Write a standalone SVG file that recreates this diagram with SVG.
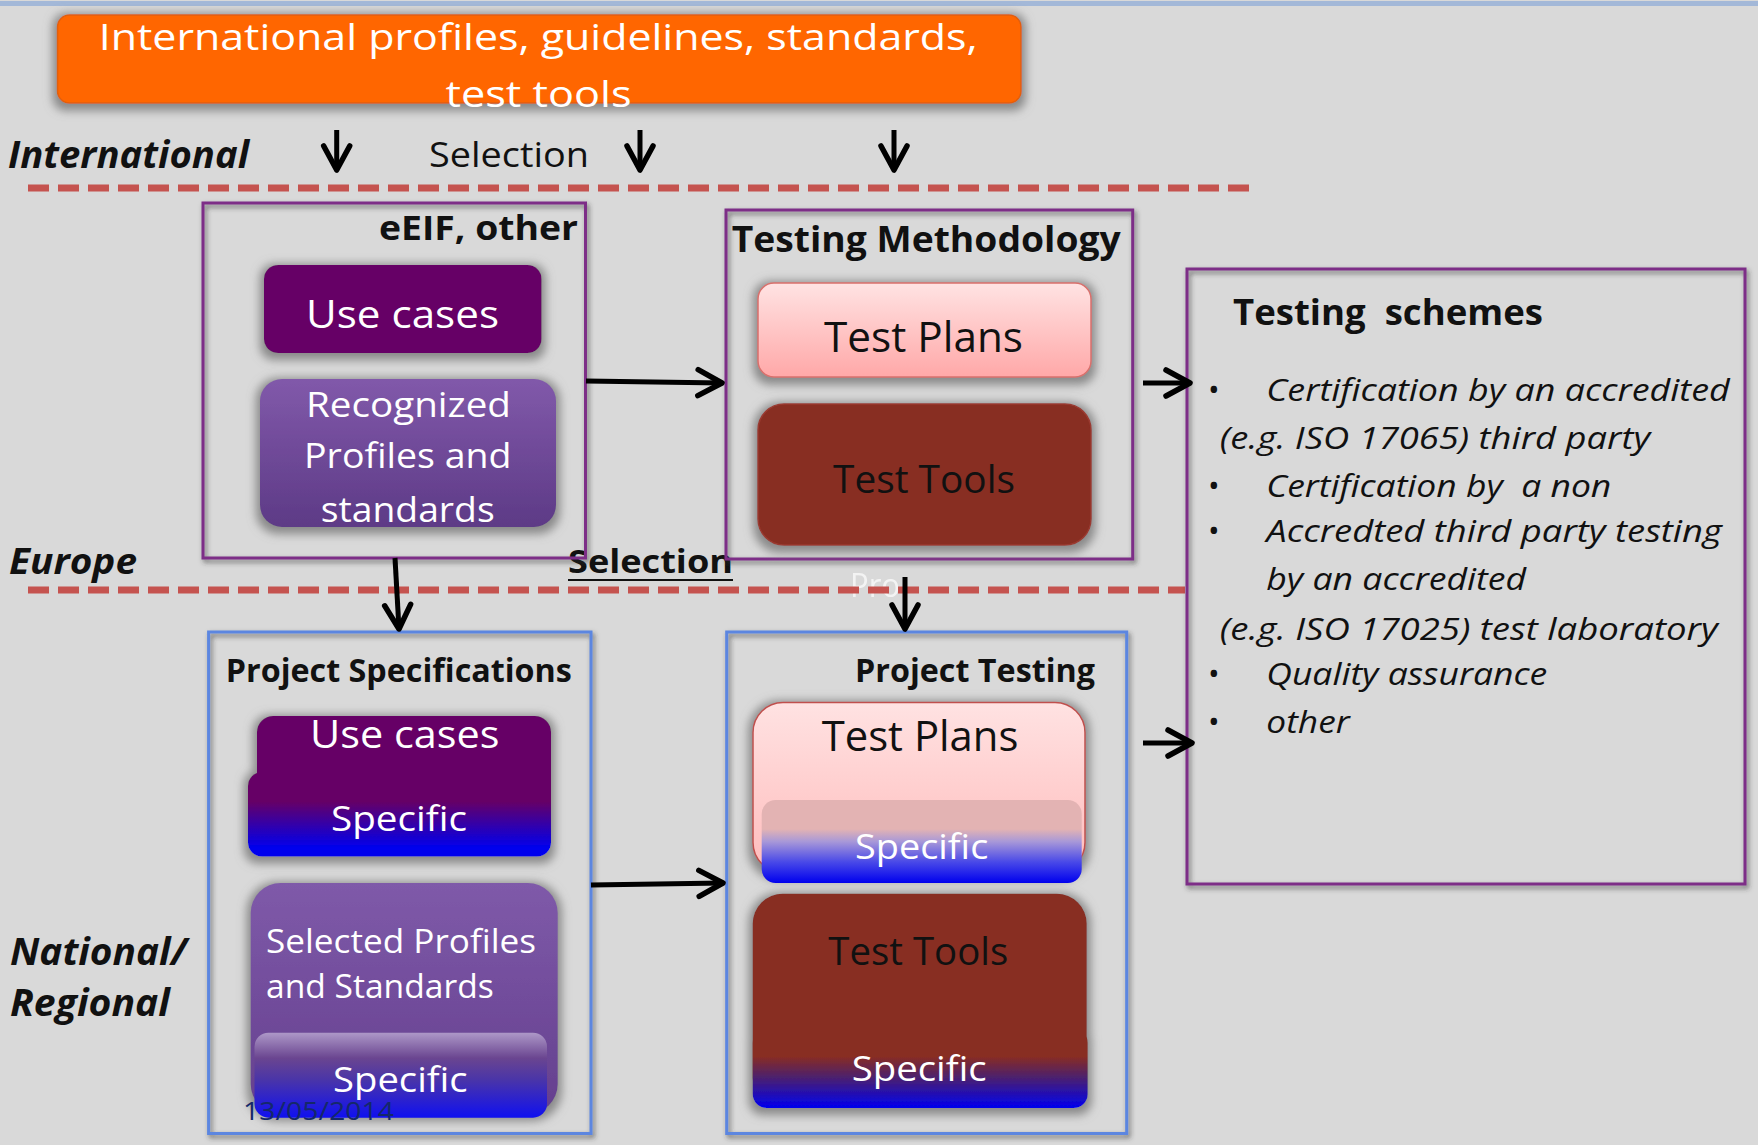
<svg xmlns="http://www.w3.org/2000/svg" width="1758" height="1145" viewBox="0 0 1758 1145">
<style>
.t{font-family:'Open Sans','Noto Sans','Liberation Sans',sans-serif;}
.w{fill:#ffffff;}
.k{fill:#111111;}
.b{font-weight:700;}
.i{font-style:italic;}
.frameP{fill:none;stroke:#7d2f87;stroke-width:3;filter:url(#fshadow);}
.frameB{fill:none;stroke:#5b86e0;stroke-width:3;filter:url(#fshadow);}
.dash{stroke:#c5534f;stroke-width:7;stroke-dasharray:21 9;fill:none;}
.conn{stroke:#000;stroke-width:5;fill:none;marker-end:url(#arr);}
</style>
<defs>
<filter id="glow" x="-20%" y="-30%" width="140%" height="160%">
<feMorphology in="SourceAlpha" operator="dilate" radius="4" result="d"/>
<feGaussianBlur in="d" stdDeviation="5" result="bl"/>
<feOffset in="bl" dx="0" dy="3" result="o"/>
<feFlood flood-color="#858585" flood-opacity="0.95"/>
<feComposite in2="o" operator="in" result="sh"/>
<feMerge><feMergeNode in="sh"/><feMergeNode in="SourceGraphic"/></feMerge>
</filter>
<filter id="fshadow" x="-5%" y="-5%" width="110%" height="110%">
<feDropShadow dx="2" dy="3" stdDeviation="2.5" flood-color="#333" flood-opacity="0.65"/>
</filter>
<marker id="arr" markerUnits="userSpaceOnUse" markerWidth="60" markerHeight="60" refX="0" refY="0" orient="auto" overflow="visible">
<path d="M-24,-13 L0,0 L-24,13" fill="none" stroke="#000" stroke-width="5.5" stroke-linejoin="round" stroke-linecap="round"/>
</marker>
<linearGradient id="gRec" x1="0" y1="0" x2="0" y2="1"><stop offset="0" stop-color="#8159aa"/><stop offset="1" stop-color="#5d3a86"/></linearGradient>
<linearGradient id="gSel" x1="0" y1="0" x2="0" y2="1"><stop offset="0" stop-color="#7f5aa9"/><stop offset="1" stop-color="#643f8e"/></linearGradient>
<linearGradient id="gPink" x1="0" y1="0" x2="0" y2="1"><stop offset="0" stop-color="#ffe3e3"/><stop offset="1" stop-color="#ffa8a8"/></linearGradient>
<linearGradient id="gPink2" x1="0" y1="0" x2="0" y2="1"><stop offset="0" stop-color="#ffe2e2"/><stop offset="1" stop-color="#ffbcbc"/></linearGradient>
<linearGradient id="gUseSpec" x1="0" y1="0" x2="0" y2="1"><stop offset="0" stop-color="#660066"/><stop offset="0.35" stop-color="#660066"/><stop offset="0.9" stop-color="#0000ee"/><stop offset="1" stop-color="#0000ee"/></linearGradient>
<linearGradient id="gSelSpec" x1="0" y1="0" x2="0" y2="1"><stop offset="0" stop-color="#ad98c8"/><stop offset="0.3" stop-color="#6a4590"/><stop offset="0.55" stop-color="#4a35a8"/><stop offset="1" stop-color="#1010f0"/></linearGradient>
<linearGradient id="gPlanSpec" x1="0" y1="0" x2="0" y2="1"><stop offset="0" stop-color="#e3b3b3"/><stop offset="0.35" stop-color="#e3b3b3"/><stop offset="0.5" stop-color="#a898d8"/><stop offset="0.75" stop-color="#4848e8"/><stop offset="1" stop-color="#0000ee"/></linearGradient>
<linearGradient id="gToolSpec" x1="0" y1="0" x2="0" y2="1"><stop offset="0" stop-color="#882d22"/><stop offset="0.35" stop-color="#882d22"/><stop offset="0.62" stop-color="#4a2070"/><stop offset="1" stop-color="#0000ee"/></linearGradient>
</defs>

<rect x="0" y="0" width="1758" height="1145" fill="#d9d9d9"/>
<rect x="0" y="1" width="1758" height="5" fill="#a3b8d8"/>

<!-- Ghost text and dashed level lines -->
<text class="t w" x="850" y="597" font-size="32" textLength="50" lengthAdjust="spacingAndGlyphs" opacity="0.7">Pro</text>
<line class="dash" x1="28" y1="188" x2="1258" y2="188"/>
<line class="dash" x1="28" y1="590" x2="1185" y2="590"/>

<!-- Level labels -->
<g id="labels">
<text class="t b i k" x="8" y="168" font-size="38" textLength="241" lengthAdjust="spacingAndGlyphs">International</text>
<text class="t k" x="429" y="167" font-size="35" textLength="160" lengthAdjust="spacingAndGlyphs">Selection</text>
<text class="t b i k" x="9" y="574" font-size="36" textLength="128" lengthAdjust="spacingAndGlyphs">Europe</text>
<text class="t b i k" x="10" y="965" font-size="37" textLength="177" lengthAdjust="spacingAndGlyphs">National/</text>
<text class="t b i k" x="10" y="1016" font-size="37" textLength="160" lengthAdjust="spacingAndGlyphs">Regional</text>
<text class="t b k" x="568" y="573" font-size="33" textLength="165" lengthAdjust="spacingAndGlyphs">Selection</text>
<line x1="568" y1="580" x2="733" y2="580" stroke="#111" stroke-width="2"/>
</g>

<!-- International box -->
<g id="international">
<rect x="57.5" y="15" width="963.5" height="88" rx="12" fill="#ff6600" stroke="#e0600a" stroke-width="1.5" filter="url(#glow)"/>
<text class="t w" x="98.7" y="50" font-size="37" textLength="879" lengthAdjust="spacingAndGlyphs">International profiles, guidelines, standards,</text>
<text class="t w" x="445.5" y="107" font-size="37" textLength="186" lengthAdjust="spacingAndGlyphs">test tools</text>
</g>

<!-- eEIF box -->
<g id="eeif">
<rect class="frameP" x="203" y="203" width="382.5" height="355"/>
<text class="t b k" x="379" y="240" font-size="34" textLength="199" lengthAdjust="spacingAndGlyphs">eEIF, other</text>
<rect x="264" y="265" width="277.5" height="88" rx="14" fill="#660066" filter="url(#glow)"/>
<text class="t w" x="306" y="328" font-size="39" textLength="193" lengthAdjust="spacingAndGlyphs">Use cases</text>
<rect x="260" y="379" width="296" height="148" rx="22" fill="url(#gRec)" filter="url(#glow)"/>
<text class="t w" x="306" y="417" font-size="35" textLength="205" lengthAdjust="spacingAndGlyphs">Recognized</text>
<text class="t w" x="304" y="468" font-size="35" textLength="207.5" lengthAdjust="spacingAndGlyphs">Profiles and</text>
<text class="t w" x="320.7" y="521.7" font-size="35" textLength="174" lengthAdjust="spacingAndGlyphs">standards</text>
</g>

<!-- Testing Methodology box -->
<g id="testing-methodology">
<rect class="frameP" x="726" y="210" width="406.7" height="349"/>
<text class="t b k" x="731.7" y="251.7" font-size="35" textLength="389" lengthAdjust="spacingAndGlyphs">Testing Methodology</text>
<rect x="758" y="283" width="333" height="94" rx="16" fill="url(#gPink)" stroke="#d9706c" stroke-width="1.5" filter="url(#glow)"/>
<text class="t k" x="824" y="351.7" font-size="42" textLength="199" lengthAdjust="spacingAndGlyphs">Test Plans</text>
<rect x="758" y="404" width="333" height="141" rx="26" fill="#882d22" stroke="#9a3a30" stroke-width="1.5" filter="url(#glow)"/>
<text class="t k" x="833" y="493" font-size="39" textLength="182" lengthAdjust="spacingAndGlyphs">Test Tools</text>
</g>

<!-- Testing schemes box -->
<g id="testing-schemes">
<rect class="frameP" x="1187" y="269" width="558" height="615"/>
<text class="t b k" x="1233" y="324.6" font-size="35" textLength="310" lengthAdjust="spacingAndGlyphs">Testing&#160; schemes</text>
<g class="t k" font-size="31">
<text x="1208" y="401">•</text>
<text x="1208" y="497">•</text>
<text x="1208" y="542">•</text>
<text x="1208" y="685">•</text>
<text x="1208" y="733">•</text>
</g>
<g class="t i k" font-size="31">
<text x="1266.3" y="401" textLength="463.4" lengthAdjust="spacingAndGlyphs">Certification by an accredited</text>
<text x="1219.8" y="449" textLength="430.4" lengthAdjust="spacingAndGlyphs">(e.g. ISO 17065) third party</text>
<text x="1266.3" y="497" textLength="345" lengthAdjust="spacingAndGlyphs">Certification by&#160; a non</text>
<text x="1266.3" y="542" textLength="455.6" lengthAdjust="spacingAndGlyphs">Accredted third party testing</text>
<text x="1266.3" y="590" textLength="259.8" lengthAdjust="spacingAndGlyphs">by an accredited</text>
<text x="1219.8" y="640" textLength="498" lengthAdjust="spacingAndGlyphs">(e.g. ISO 17025) test laboratory</text>
<text x="1266.3" y="685" textLength="281" lengthAdjust="spacingAndGlyphs">Quality assurance</text>
<text x="1266.3" y="733" textLength="83.4" lengthAdjust="spacingAndGlyphs">other</text>
</g>
</g>

<!-- Project Specifications box -->
<g id="project-specifications">
<rect class="frameB" x="208.6" y="632" width="382.4" height="501.5"/>
<text class="t b k" x="225.8" y="681.7" font-size="32" textLength="346" lengthAdjust="spacingAndGlyphs">Project Specifications</text>
<g filter="url(#glow)">
<rect x="257" y="716" width="294" height="110" rx="16" fill="#660066"/>
<rect x="248" y="772" width="303" height="84.5" rx="14" fill="url(#gUseSpec)"/>
</g>
<text class="t w" x="310" y="747.7" font-size="39" textLength="189.4" lengthAdjust="spacingAndGlyphs">Use cases</text>
<text class="t w" x="331" y="831" font-size="34" textLength="136" lengthAdjust="spacingAndGlyphs">Specific</text>
<rect x="250.7" y="883" width="307" height="231" rx="30" fill="url(#gSel)" filter="url(#glow)"/>
<text class="t w" x="266" y="952.8" font-size="33" textLength="270" lengthAdjust="spacingAndGlyphs">Selected Profiles</text>
<text class="t w" x="266" y="998" font-size="33" textLength="227.7" lengthAdjust="spacingAndGlyphs">and Standards</text>
<rect x="254.5" y="1032.7" width="292.5" height="85" rx="14" fill="url(#gSelSpec)"/>
<text class="t w" x="333" y="1091.8" font-size="34" textLength="134.7" lengthAdjust="spacingAndGlyphs">Specific</text>
</g>

<!-- Project Testing box -->
<g id="project-testing">
<rect class="frameB" x="726.7" y="632" width="400" height="501.5"/>
<text class="t b k" x="855" y="681.7" font-size="32" textLength="240" lengthAdjust="spacingAndGlyphs">Project Testing</text>
<rect x="753" y="702.5" width="332" height="170" rx="30" fill="url(#gPink2)" stroke="#c0504d" stroke-width="1.5" filter="url(#glow)"/>
<text class="t k" x="821.7" y="751" font-size="42" textLength="196.7" lengthAdjust="spacingAndGlyphs">Test Plans</text>
<rect x="761.7" y="800" width="320" height="83" rx="14" fill="url(#gPlanSpec)"/>
<text class="t w" x="855" y="859" font-size="34" textLength="133.3" lengthAdjust="spacingAndGlyphs">Specific</text>
<g filter="url(#glow)">
<rect x="752.7" y="893.7" width="334" height="214" rx="30" fill="#882d22"/>
<rect x="752.7" y="1029" width="335" height="79" rx="14" fill="url(#gToolSpec)"/>
</g>
<text class="t k" x="828.3" y="965" font-size="39" textLength="180" lengthAdjust="spacingAndGlyphs">Test Tools</text>
<text class="t w" x="851.7" y="1081" font-size="34" textLength="135" lengthAdjust="spacingAndGlyphs">Specific</text>
</g>

<text class="t" x="243" y="1119.6" font-size="25" fill="#14286a" textLength="151" lengthAdjust="spacingAndGlyphs">13/05/2014</text>

<!-- Connectors -->
<g id="connectors">
<line class="conn" x1="336.7" y1="130" x2="336.7" y2="170"/>
<line class="conn" x1="640" y1="130" x2="640" y2="170"/>
<line class="conn" x1="894" y1="130" x2="894" y2="170"/>
<line class="conn" x1="586" y1="381" x2="722" y2="383"/>
<line class="conn" x1="1143" y1="383" x2="1190" y2="383"/>
<line class="conn" x1="395" y1="558" x2="399" y2="629"/>
<line class="conn" x1="905" y1="577" x2="905" y2="629"/>
<line class="conn" x1="591" y1="885" x2="723" y2="883"/>
<line class="conn" x1="1143" y1="743" x2="1192" y2="743"/>
</g>
</svg>
